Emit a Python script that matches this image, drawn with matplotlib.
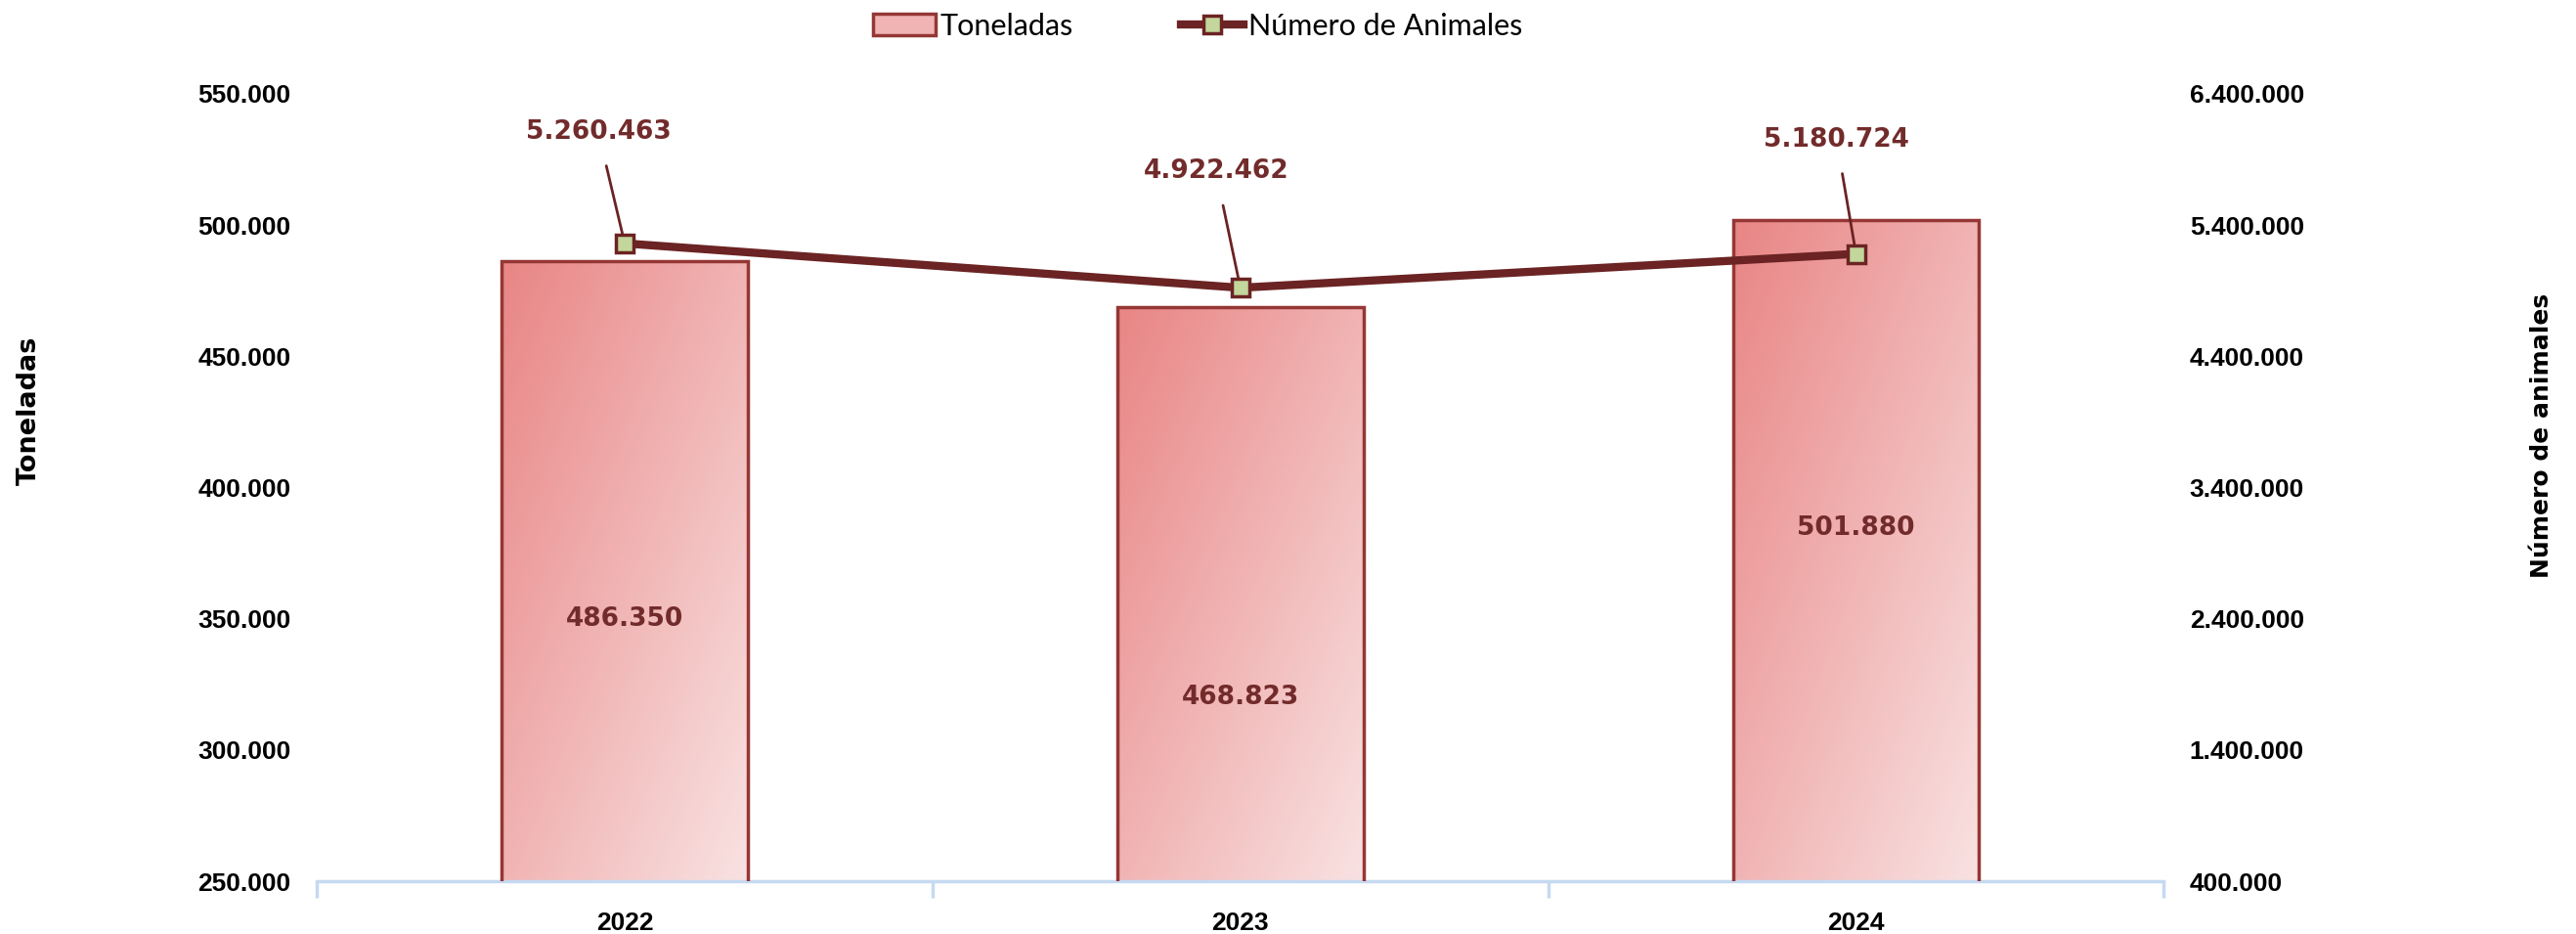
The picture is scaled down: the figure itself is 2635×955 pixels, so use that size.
import matplotlib
matplotlib.use("Agg")
import matplotlib.pyplot as plt
from matplotlib.colors import LinearSegmentedColormap
from matplotlib.ticker import FuncFormatter, FixedLocator
import numpy as np

years = ["2022", "2023", "2024"]
toneladas = [486350, 468823, 501880]
animales = [5260463, 4922462, 5180724]
# where the ton labels sit inside each bar (data units)
ton_label_y = [350000, 320000, 384500]

dark_red = "#6b2323"
label_red = "#722b2b"
bar_edge = "#953735"
marker_face = "#c3d69b"
tick_font = ["Liberation Sans", "DejaVu Sans"]


def dotted(v, pos=None):
    return "{:,.0f}".format(v).replace(",", ".")


plt.rcParams["font.family"] = ["DejaVu Sans"]

fig = plt.figure(figsize=(26.35, 9.55), dpi=100)
ax = fig.add_axes([0.123, 0.0565, 0.717, 0.843])
ax2 = ax.twinx()

x = np.arange(len(years))
bars = ax.bar(x, toneladas, width=0.4, color="none", edgecolor=bar_edge,
              linewidth=2.5, zorder=3, label="Toneladas")

# gradient fill clipped to each bar
cmap = LinearSegmentedColormap.from_list("grad", ["#e98585", "#f9e2e2"])
gy, gx = np.mgrid[0:1:200j, 0:1:200j]
grad = (gx + gy) / 2.0
for b in bars:
    x0 = b.get_x()
    x1 = x0 + b.get_width()
    top = b.get_height()
    im = ax.imshow(grad, cmap=cmap, extent=(x0, x1, 250000, top),
                   origin="upper", aspect="auto", zorder=2, vmin=0, vmax=1)
    im.set_clip_path(b)
ax.set_xlim(-0.5, 2.5)
ax.set_ylim(250000, 550000)

for i, v in enumerate(toneladas):
    ax.text(x[i], ton_label_y[i], dotted(v), ha="center", va="center",
            fontsize=19, fontweight="bold", color=label_red, zorder=5)

ln, = ax2.plot(x, animales, color=dark_red, linewidth=6, marker="s",
               markersize=13, markerfacecolor=marker_face,
               markeredgecolor=dark_red, markeredgewidth=2.5,
               label="Número de Animales", zorder=4)
ax2.set_ylim(400000, 6400000)

offsets = [(-27, 114), (-25, 119), (-20, 117)]
for i, v in enumerate(animales):
    ax2.annotate(dotted(v), (x[i], v), xytext=offsets[i],
                 textcoords="offset pixels", ha="center", va="center",
                 fontsize=19, fontweight="bold", color=label_red,
                 arrowprops=dict(arrowstyle="-", color=dark_red, lw=2,
                                 shrinkA=14, shrinkB=0))

# axes styling
ax.yaxis.set_major_locator(FixedLocator(np.arange(250000, 550001, 50000)))
ax.yaxis.set_major_formatter(FuncFormatter(dotted))
ax2.yaxis.set_major_locator(FixedLocator(np.arange(400000, 6400001, 1000000)))
ax2.yaxis.set_major_formatter(FuncFormatter(dotted))
for a in (ax, ax2):
    for s in ("top", "left", "right", "bottom"):
        a.spines[s].set_visible(False)
ax.spines["bottom"].set_visible(True)
ax.spines["bottom"].set_color("#c6d9f1")
ax.spines["bottom"].set_linewidth(2.5)

ax.tick_params(axis="y", length=0, pad=19, labelsize=19)
ax2.tick_params(axis="y", length=0, pad=19, labelsize=19)
for lab in ax.get_yticklabels() + ax2.get_yticklabels():
    lab.set_fontweight("bold")
    lab.set_family(tick_font)

ax.set_xticks(x)
ax.set_xticklabels(years, fontsize=19, fontweight="bold", family=tick_font)
ax.set_xticks([-0.5, 0.5, 1.5, 2.5], minor=True)
ax.tick_params(axis="x", which="major", length=0, pad=22)
ax.tick_params(axis="x", which="minor", length=12, width=2.5,
               color="#c6d9f1", direction="out")

fig.text(30 / 2635, 1 - 420 / 955, "Toneladas", rotation=90, ha="center",
         va="center", fontsize=19.5, fontweight="bold")
fig.text(2600 / 2635, 1 - 445 / 955, "Número de animales", rotation=90,
         ha="center", va="center", fontsize=18, fontweight="bold")

leg = fig.legend([bars, ln], ["Toneladas", "Número de Animales"],
                 loc="center", bbox_to_anchor=(0.465, 0.972), ncol=2,
                 frameon=False, handlelength=2.1, handletextpad=0.15,
                 columnspacing=3.6,
                 prop={"family": ["Lato", "DejaVu Sans"], "size": 22})
for h in leg.legend_handles:
    if hasattr(h, "set_facecolor"):
        h.set_facecolor("#f0b4b4")

fig.savefig("out.png", dpi=100)
